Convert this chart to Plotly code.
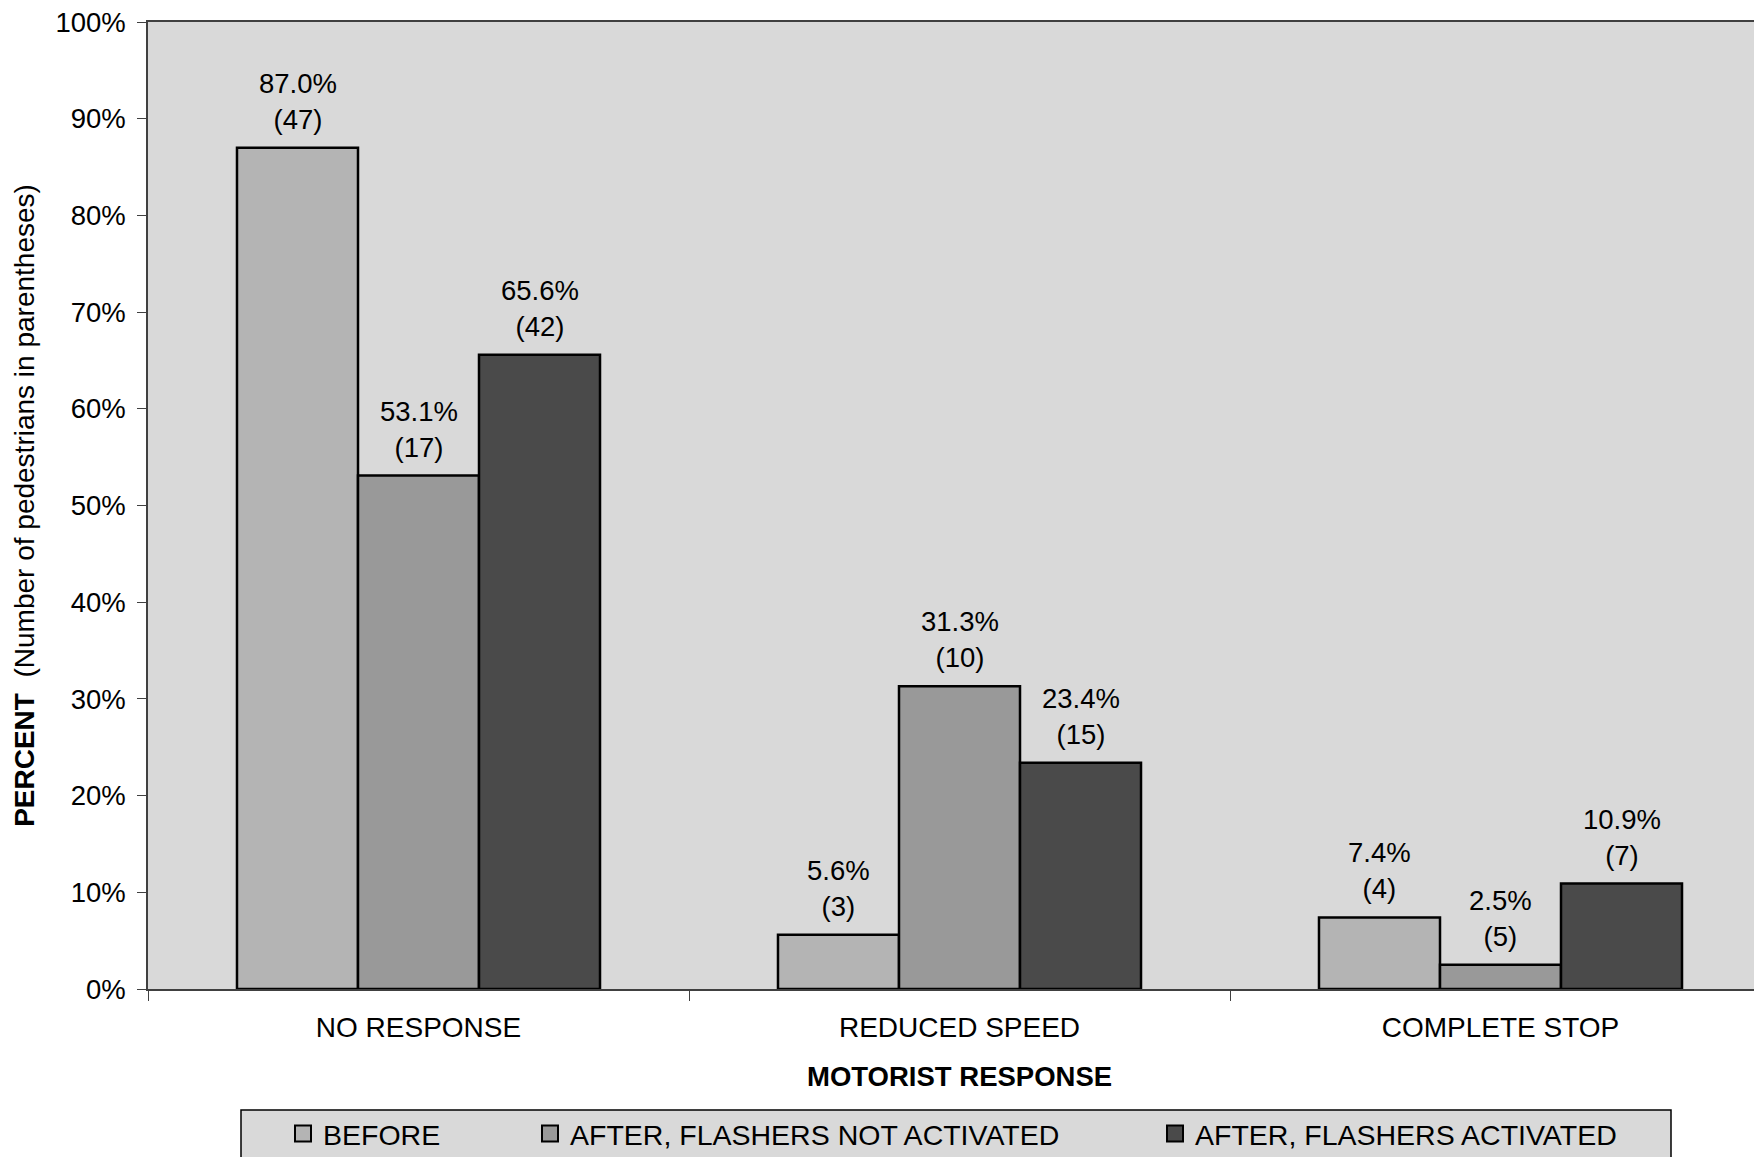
import plotly.graph_objects as go

# Motorist response to pedestrians, before / after flasher installation
categories = ["NO RESPONSE", "REDUCED SPEED", "COMPLETE STOP"]
series_names = ["BEFORE", "AFTER, FLASHERS NOT ACTIVATED", "AFTER, FLASHERS ACTIVATED"]
before_pct = [87.0, 5.6, 7.4]
not_activated_pct = [53.1, 31.3, 2.5]
activated_pct = [65.6, 23.4, 10.9]
before_n = [47, 3, 4]
not_activated_n = [17, 10, 5]
activated_n = [42, 15, 7]
y_ticks = [0, 10, 20, 30, 40, 50, 60, 70, 80, 90, 100]

values = [before_pct, not_activated_pct, activated_pct]
counts = [before_n, not_activated_n, activated_n]
colors = ["#b4b4b4", "#999999", "#4a4a4a"]

FONT = "Liberation Sans, Arial, sans-serif"
FS = 27.5
W, H = 1754, 1157
ML, MR, MT, MB = 148, 0, 22, 168
PW, PH = W - ML - MR, H - MT - MB
CAT_PX = 541.0
BARGAP = 0.329
bar_w = (1 - BARGAP) / 3

fig = go.Figure()
legend_ids = ["legend", "legend2", "legend3"]
for k in range(3):
    fig.add_trace(go.Bar(
        x=categories, y=values[k], name=series_names[k],
        marker=dict(color=colors[k], line=dict(color="#000000", width=2.5)),
        legendgroup=series_names[k], showlegend=False,
    ))
    # legend key: square swatch with a black outline
    fig.add_trace(go.Scatter(
        x=[None], y=[None], mode="markers", name=series_names[k],
        marker=dict(symbol="square", size=16, color=colors[k],
                    line=dict(color="#000000", width=2)),
        legendgroup=series_names[k], legend=legend_ids[k], hoverinfo="skip",
    ))

# value labels above each bar: percentage and count
for k in range(3):
    for i in range(3):
        fig.add_annotation(
            x=i + (k - 1) * bar_w, y=values[k][i], xref="x", yref="y",
            text=f"{values[k][i]:.1f}%<br>({counts[k][i]})",
            showarrow=False, yanchor="bottom", yshift=11,
            font=dict(family=FONT, size=FS, color="#000000"),
        )

def px_x(p):
    return (p - ML) / PW

def px_y(p):
    return (MT + PH - p) / PH

# legend frame
fig.add_shape(type="rect", xref="paper", yref="paper",
              x0=px_x(241), x1=px_x(1671), y0=px_y(1110), y1=px_y(1175),
              fillcolor="#d9d9d9", line=dict(color="#000000", width=1.5),
              layer="below")

# x axis title, centred under the three category slots
fig.add_annotation(
    xref="paper", yref="paper", x=px_x(ML + 1.5 * CAT_PX), y=px_y(1076),
    text="<b>MOTORIST RESPONSE</b>", showarrow=False,
    xanchor="center", yanchor="middle",
    font=dict(family=FONT, size=FS, color="#000000"),
)

legend_left = [283, 530, 1155]
layout_legends = {}
for k, lid in enumerate(legend_ids):
    layout_legends[lid] = dict(
        x=px_x(legend_left[k]), xanchor="left",
        y=px_y(1134), yanchor="middle",
        orientation="h", bgcolor="rgba(0,0,0,0)", borderwidth=0,
        font=dict(family=FONT, size=28.5, color="#000000"),
    )

fig.update_layout(
    width=W, height=H,
    margin=dict(l=ML, r=MR, t=MT, b=MB, autoexpand=False),
    paper_bgcolor="#ffffff", plot_bgcolor="#d9d9d9",
    barmode="group", bargap=BARGAP, bargroupgap=0,
    font=dict(family=FONT, size=FS, color="#000000"),
    showlegend=True,
    **layout_legends,
)

fig.update_xaxes(
    type="category", range=[-0.5, -0.5 + PW / CAT_PX],
    tickson="boundaries", ticks="outside", ticklen=10, tickwidth=1.2,
    tickcolor="#404040", showline=True, linecolor="#404040", linewidth=1.5,
    mirror=True, showgrid=False, zeroline=False, ticklabelstandoff=13,
    tickfont=dict(family=FONT, size=28, color="#000000"),
)
fig.update_yaxes(
    range=[0, 100], tickvals=y_ticks, ticktext=[f"{v}%" for v in y_ticks],
    ticks="outside", ticklen=9, tickwidth=1.2, tickcolor="#404040",
    showline=True, linecolor="#404040", linewidth=1.5,
    showgrid=False, zeroline=False, ticklabelstandoff=6,
    tickfont=dict(family=FONT, size=FS, color="#000000"),
    title=dict(text="<b>PERCENT</b>  (Number of pedestrians in parentheses)",
               standoff=13, font=dict(family=FONT, size=28, color="#000000")),
)

fig.write_html("out.html")
